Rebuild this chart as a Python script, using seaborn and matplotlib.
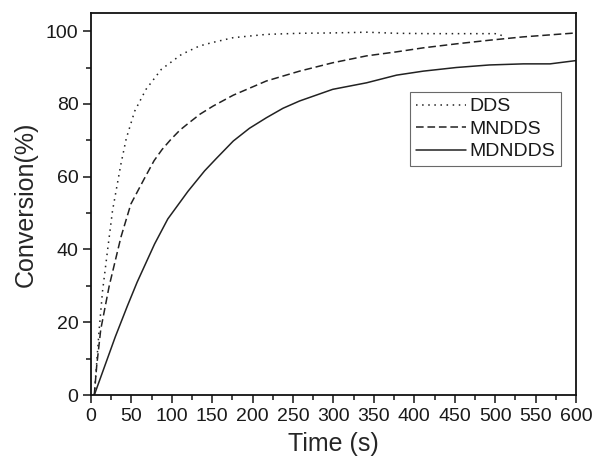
import matplotlib.pyplot as plt
import pandas as pd
import seaborn as sns

# values
dds_time = [4, 10, 14.2, 20.4, 26.6, 37, 43.6, 54, 68, 87, 112, 134, 149,
            176, 217, 258, 299, 341, 378, 420, 460, 500, 506, 510]
dds_conv = [0, 17.8, 28.5, 39.7, 50.7, 63.5, 70.5, 78, 84, 89.5, 93.6, 95.9,
            96.8, 98.2, 99.1, 99.4, 99.5, 99.7, 99.4, 99.3, 99.3, 99.3, 99.0, 98.6]

mndds_time = [4, 7, 12, 22.5, 37, 49.3, 66, 78, 88, 99, 110, 120, 135, 151,
              176, 217, 258, 299, 341, 378, 411, 452, 493, 534, 570, 600]
mndds_conv = [0, 8, 18, 30, 43.4, 52.5, 59.5, 64.4, 67.5, 70.3, 72.8, 74.6,
              77.2, 79.4, 82.4, 86.3, 89, 91.3, 93.2, 94.3, 95.4, 96.5, 97.5,
              98.4, 99.0, 99.5]

mdndds_time = [4, 17, 30, 45, 57, 78.6, 95, 120, 140.5, 155, 176, 196, 217,
               237.5, 258, 299, 341, 378, 411, 452, 493, 535, 568, 600]
mdndds_conv = [0, 8, 16, 24.5, 31, 41.5, 48.4, 56, 61.6, 65, 69.8, 73.3, 76.2,
               78.8, 80.8, 84, 85.8, 87.9, 89, 90, 90.7, 91, 91, 91.9]

series = [
    ("DDS", dds_time, dds_conv, (0, (1, 3))),
    ("MNDDS", mndds_time, mndds_conv, (0, (5, 2.5))),
    ("MDNDDS", mdndds_time, mdndds_conv, "-"),
]

sns.set_style("ticks")
plt.rcParams["font.family"] = ["Liberation Sans", "DejaVu Sans"]
plt.rcParams["text.color"] = "#1a1a1a"
plt.rcParams["xtick.labelcolor"] = "#1a1a1a"
plt.rcParams["ytick.labelcolor"] = "#1a1a1a"

fig, ax = plt.subplots(figsize=(5.95, 4.61), dpi=100)
fig.subplots_adjust(left=0.153, right=0.968, top=0.972, bottom=0.143)

for name, t, c, ls in series:
    df = pd.DataFrame({"Time": t, "Conversion": c})
    sns.lineplot(data=df, x="Time", y="Conversion", ax=ax, color="#222222",
                 linewidth=1.1, linestyle=ls, label=name, sort=False)

ax.set_xlim(0, 600)
ax.set_ylim(0, 105)
ax.set_xticks(range(0, 601, 50))
ax.set_xticks(range(0, 601, 25), minor=True)
ax.set_yticks(range(0, 101, 20))
ax.set_yticks(range(0, 101, 10), minor=True)
ax.tick_params(which="major", direction="out", length=6, width=1.2,
               labelsize=14, pad=3)
ax.tick_params(which="minor", direction="out", length=3.5, width=1.2)
for sp in ax.spines.values():
    sp.set_linewidth(1.3)
    sp.set_color("#111111")

ax.set_xlabel("Time (s)", fontsize=18, labelpad=5)
ax.set_ylabel("Conversion(%)", fontsize=18, labelpad=6)

leg = ax.legend(loc="upper right", bbox_to_anchor=(0.969, 0.793), fontsize=14,
                frameon=True, fancybox=False, handlelength=2.6,
                handletextpad=0.15, borderpad=0.3, labelspacing=0.25,
                borderaxespad=0)
leg.get_frame().set_edgecolor("#444444")
leg.get_frame().set_linewidth(0.8)

fig.savefig("out.png", dpi=100)
